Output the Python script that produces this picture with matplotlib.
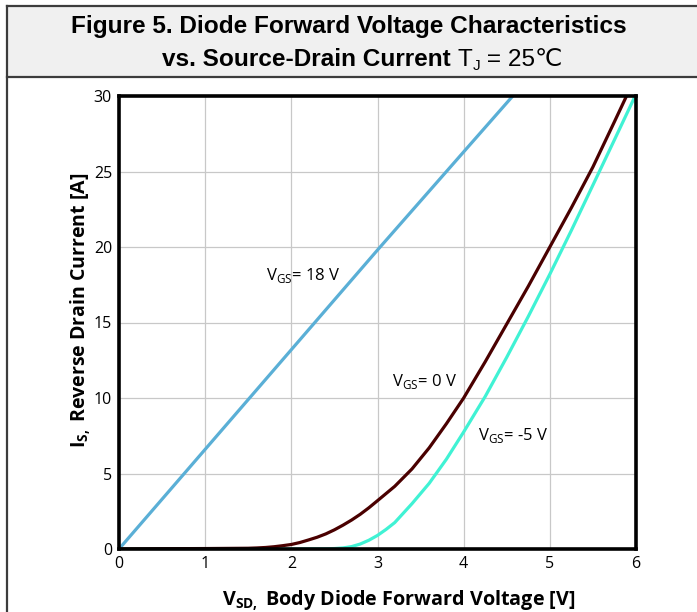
import matplotlib
matplotlib.use("Agg")
import matplotlib.pyplot as plt
from matplotlib.patches import Rectangle
from matplotlib.lines import Line2D

plt.rcParams['font.family'] = ['Open Sans', 'DejaVu Sans']

# body diode curves, read at VSD [V] -> IS [A]
vsd_18 = [0.0, 1.0, 2.0, 3.0, 4.0, 4.57]
is_18 = [0.0, 6.6, 13.2, 19.8, 26.3, 30.0]

vsd_0 = [0.0, 0.5, 1.0, 1.5, 1.6, 1.7, 1.8, 1.9, 2.0, 2.1, 2.2, 2.3, 2.4, 2.5,
         2.6, 2.7, 2.8, 2.9, 3.0, 3.2, 3.4, 3.6, 3.8, 4.0, 4.25, 4.5, 4.75,
         5.0, 5.25, 5.5, 5.75, 5.89]
is_0 = [0.0, 0.02, 0.03, 0.05, 0.07, 0.1, 0.15, 0.22, 0.3, 0.43, 0.6, 0.78, 1.0,
        1.27, 1.58, 1.92, 2.3, 2.73, 3.2, 4.15, 5.3, 6.7, 8.3, 10.0, 12.4, 14.9,
        17.4, 20.0, 22.6, 25.3, 28.3, 30.0]

vsd_m5 = [0.0, 2.0, 2.4, 2.5, 2.6, 2.7, 2.8, 2.9, 3.0, 3.1, 3.2, 3.4, 3.6, 3.8,
          4.0, 4.25, 4.5, 4.75, 5.0, 5.25, 5.5, 5.75, 5.99]
is_m5 = [0.0, 0.0, 0.01, 0.03, 0.07, 0.16, 0.33, 0.58, 0.9, 1.3, 1.75, 3.0, 4.35,
         5.95, 7.75, 10.1, 12.7, 15.4, 18.2, 21.1, 24.1, 27.1, 30.0]

x_ticks = [0, 1, 2, 3, 4, 5, 6]
y_ticks = [0, 5, 10, 15, 20, 25, 30]

W, H = 697, 612
fig = plt.figure(figsize=(W / 100, H / 100), dpi=100)

# title band and outer frame
fig.patches.append(Rectangle((7 / W, 1 - 77 / H), 1, 71 / H, transform=fig.transFigure,
                             facecolor='#f0f0f0', edgecolor='none', zorder=0))
frame = dict(transform=fig.transFigure, color='#3c3c3c', lw=1.6)
fig.add_artist(Line2D([7 / W, 1], [1 - 6 / H, 1 - 6 / H], **frame))
fig.add_artist(Line2D([7 / W, 1], [1 - 77 / H, 1 - 77 / H], **frame))
fig.add_artist(Line2D([7 / W, 7 / W], [0, 1 - 6 / H], **frame))

title_font = ['Liberation Sans', 'DejaVu Sans']
tsize = 17.6
base2 = 1 - 66 / H
fig.text(349 / W, 1 - 33 / H, 'Figure 5. Diode Forward Voltage Characteristics',
         ha='center', va='baseline', fontsize=tsize, fontweight='bold', family=title_font)
fig.text(451 / W, base2, 'vs. Source-Drain Current', ha='right', va='baseline',
         fontsize=tsize, fontweight='bold', family=title_font)

# "T_J = 25℃" built from pieces so the ℃ sign can fall back to DejaVu
renderer = fig.canvas.get_renderer()
t_T = fig.text(457 / W, base2, 'T', ha='left', va='baseline', fontsize=tsize,
               family=title_font)
x_J = t_T.get_window_extent(renderer).x1 + 1
t_J = fig.text(x_J / W, base2 - 4 / H, 'J', ha='left', va='baseline', fontsize=11,
               family=title_font)
x_eq = t_J.get_window_extent(renderer).x1
fig.text(x_eq / W, base2, ' = 25\u2103', ha='left', va='baseline', fontsize=tsize,
         family=title_font)

ax = fig.add_axes([119 / W, 1 - 549 / H, (636 - 119) / W, (549 - 96) / H])
ax.plot(vsd_18, is_18, color='#5aafd6', lw=2.3, solid_capstyle='butt')
ax.plot(vsd_m5, is_m5, color='#40f2d4', lw=2.3, solid_capstyle='butt')
ax.plot(vsd_0, is_0, color='#4a0000', lw=2.3, solid_capstyle='butt')

ax.set_xlim(0, 6)
ax.set_ylim(0, 30)
ax.set_xticks(x_ticks)
ax.set_yticks(y_ticks)
ax.tick_params(length=0, labelsize=11.5, pad=5)
ax.grid(True, color='#c8c8c8', lw=0.9)
ax.set_axisbelow(True)
for s in ax.spines.values():
    s.set_linewidth(2.6)
    s.set_color('black')

ax.set_xlabel('V$_\\mathregular{SD,}$ Body Diode Forward Voltage [V]', fontsize=14.2,
              fontweight='bold', labelpad=12)
ax.set_ylabel('I$_\\mathregular{S,}$ Reverse Drain Current [A]', fontsize=14,
              fontweight='bold', labelpad=0.5)
ax.xaxis.label.set_x(0.54)
ax.yaxis.label.set_y(0.527)

ax.text(1.71, 18.1, 'V$_\\mathregular{GS}$= 18 V', fontsize=12, ha='left', va='center')
ax.text(3.17, 11.1, 'V$_\\mathregular{GS}$= 0 V', fontsize=12, ha='left', va='center')
ax.text(4.17, 7.5, 'V$_\\mathregular{GS}$= -5 V', fontsize=12, ha='left', va='center')

fig.savefig('out.png', dpi=100)
